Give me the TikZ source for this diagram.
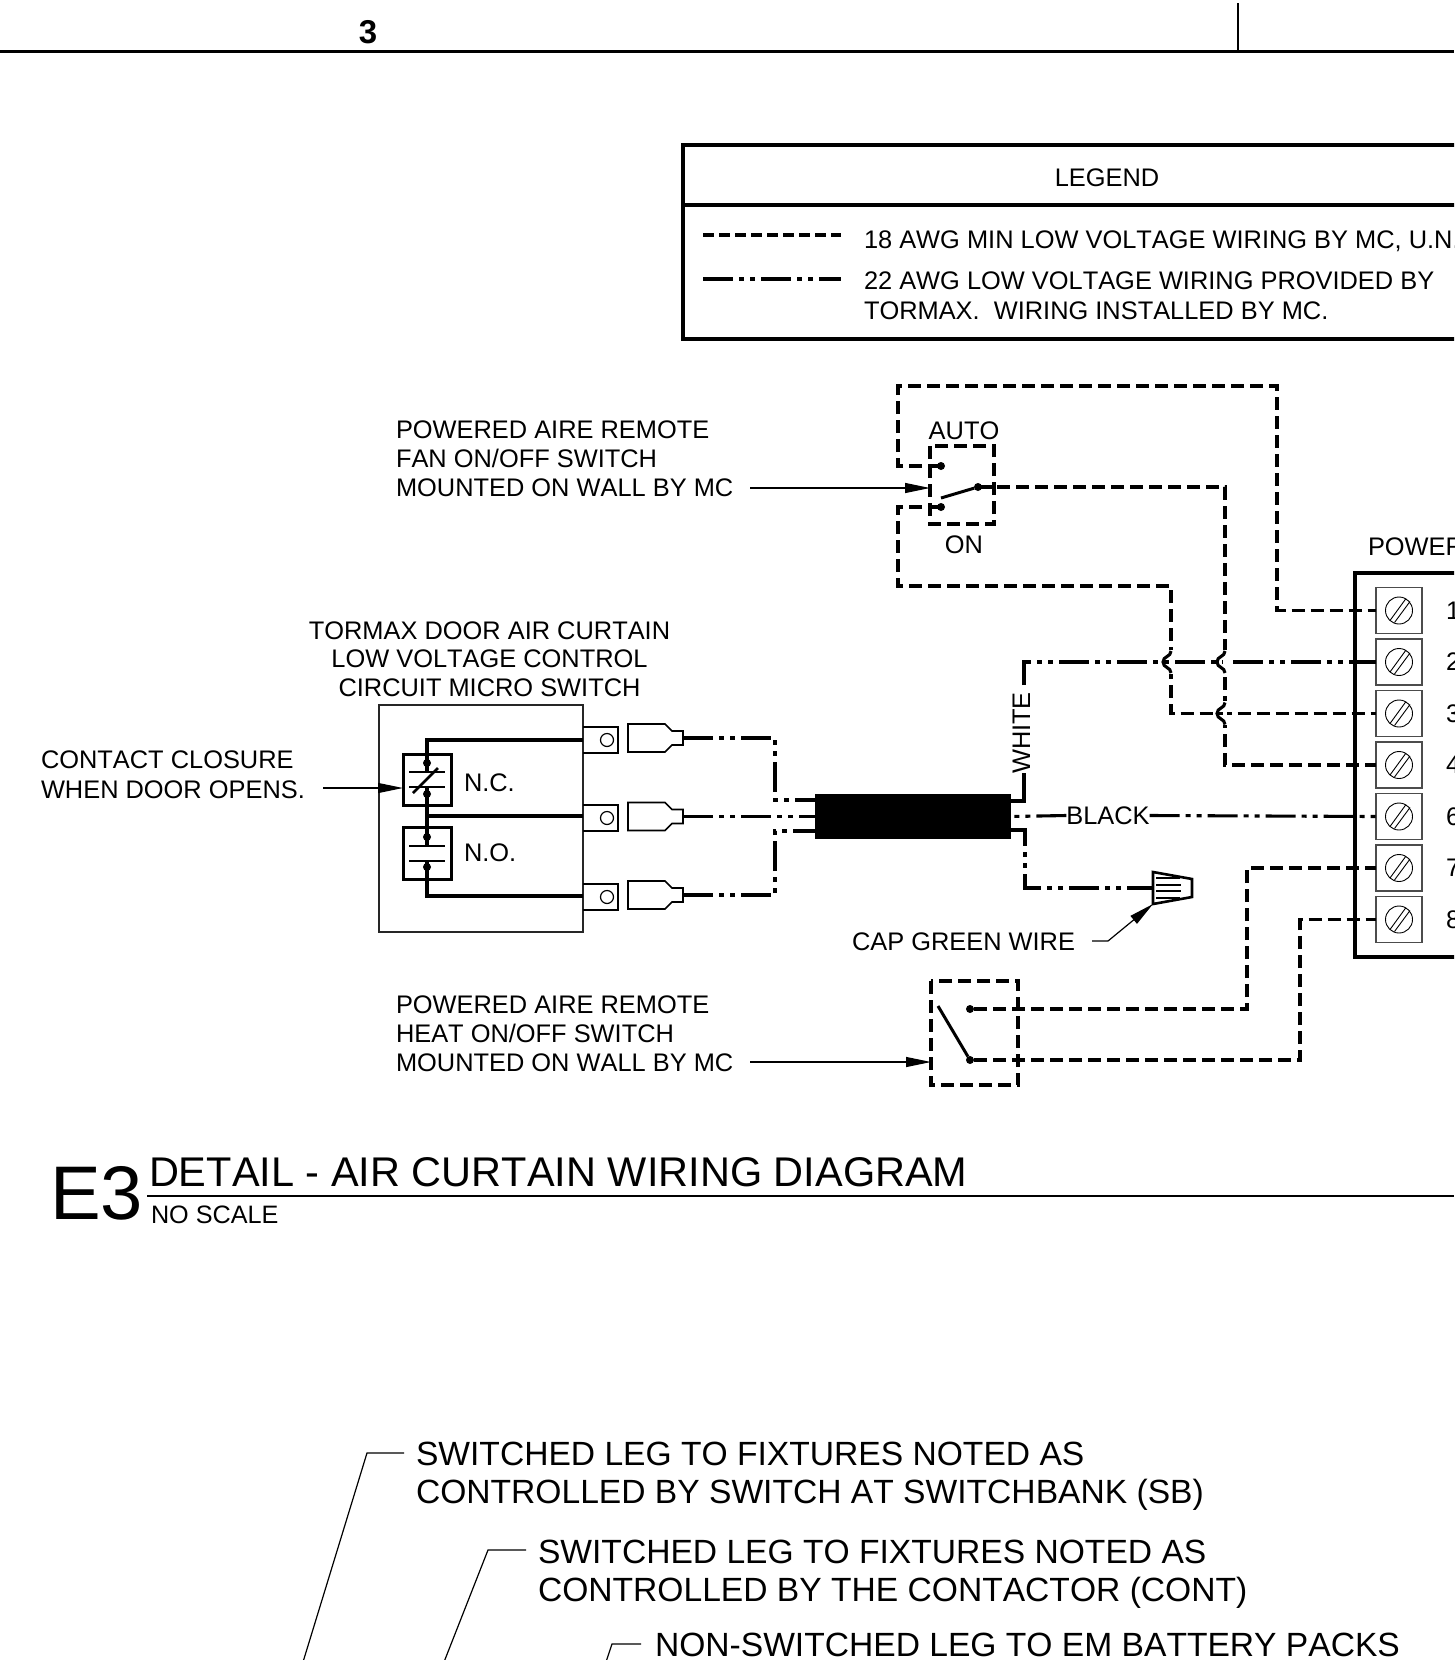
\documentclass[tikz,border=0pt]{standalone}
\usepackage{fontspec}
\setmainfont[Kerning=Off]{Liberation Sans}
\usetikzlibrary{arrows.meta,calc}
\tikzset{
 x=1pt,y=-1pt,
 txt/.style={inset,anchor=north west,align=left,font=\fontsize{25.4}{29}\selectfont},
 inset/.style={inner sep=0pt,outer sep=0pt},
 ctxt/.style={inset,anchor=north,align=center,font=\fontsize{25.4}{28.5}\selectfont},
 bigtxt/.style={inset,anchor=north west,align=left,font=\fontsize{33.6}{38}\selectfont},
 wire/.style={line width=3.1pt,line join=miter},
 dashwire/.style={wire,dash pattern=on 13pt off 6pt},
 dotwire/.style={wire,dash pattern=on 30pt off 6pt on 5pt off 6pt on 5pt off 6pt},
 leader/.style={line width=1.2pt},
 lead arrow/.style={leader,-{Triangle[length=25pt,width=10pt]}},
 frame/.style={line width=3.1pt},
 thinframe/.style={line width=1.6pt,draw=black!85},
 term/.style={draw=black!70,line width=1.6pt,minimum width=46pt,minimum height=46pt,inset},
 dotmark/.style={circle,fill=black,minimum size=8pt,inset},
 lugstyle/.style={line width=1.6pt,fill=white},
}
\newcommand{\screw}[1]{%
 \draw[line width=0.9pt] (#1) circle (13.5);
 \draw[line width=0.9pt] ($(#1)+(-9,10)$) -- ($(#1)+(7,-12)$);
 \draw[line width=0.9pt] ($(#1)+(-4.5,12)$) -- ($(#1)+(11,-9)$);
}
\newcommand{\lug}[1]{%
 \draw[lugstyle] ($(#1)+(-55,-14)$) -- ($(#1)+(-18,-14)$) -- ($(#1)+(-11,-7)$) -- ($(#1)+(0,-7)$) -- ($(#1)+(0,7)$) -- ($(#1)+(-11,7)$) -- ($(#1)+(-18,14)$) -- ($(#1)+(-55,14)$) -- cycle;
}
\newcommand{\hop}[2]{%
 \draw[wire] (#1,#2-11) .. controls (#1,#2-5) and (#1-8,#2-6) .. (#1-8,#2) .. controls (#1-8,#2+6) and (#1,#2+5) .. (#1,#2+11);
}
\begin{document}
\begin{tikzpicture}
\useasboundingbox (0,0) rectangle (1454,1660);
\clip (0,0) rectangle (1454,1660);
% title strip
\coordinate (topL) at (0,51.5); \coordinate (topR) at (1454,51.5);
\draw[frame] (topL) -- (topR);
\coordinate (tickA) at (1238,3); \coordinate (tickB) at (1238,51);
\draw[leader] (tickA) -- (tickB);
\node[inset,font=\fontsize{33}{33}\bfseries] (sheetno) at (368,32) {3};
% legend
\coordinate (legTL) at (683,145); \coordinate (legTR) at (1460,145);
\coordinate (legML) at (683,205); \coordinate (legMR) at (1460,205);
\coordinate (legBL) at (683,339); \coordinate (legBR) at (1460,339);
\draw[frame] (legTR) -- (legTL) -- (legBL) -- (legBR);
\draw[frame] (legML) -- (legMR);
\node[inset,anchor=north,font=\fontsize{25.4}{29}\selectfont] (legtitle) at (1107,168.5) {LEGEND};
\node[txt] (leg1) at (864,231) {18 AWG MIN LOW VOLTAGE WIRING BY MC, U.N.O.};
\node[txt,font=\fontsize{25.4}{30}\selectfont] (leg2) at (864,272) {22 AWG LOW VOLTAGE WIRING PROVIDED BY\\TORMAX.\ \ WIRING INSTALLED BY MC.};
\coordinate (ls1a) at (703,235); \coordinate (ls1b) at (841,235);
\coordinate (ls2a) at (703,279); \coordinate (ls2b) at (841,279);
\draw[wire,dash pattern=on 11pt off 5pt] (ls1a) -- (ls1b);
\draw[wire,dash pattern=on 30pt off 6pt on 5pt off 6pt on 5pt off 6pt] (ls2a) -- (ls2b);
% terminal block
\coordinate (blkTR) at (1460,573); \coordinate (blkTL) at (1355,573);
\coordinate (blkBL) at (1355,957); \coordinate (blkBR) at (1460,957);
\draw[frame] (blkTR) -- (blkTL) -- (blkBL) -- (blkBR);
\node[txt] (blklabel) at (1368,537.5) {POWERED AIRE};
\foreach \n/\y/\lab in {1/610.5/1,2/662/2,3/713.5/3,4/765/4,6/816.5/6,7/868/7,8/919.5/8}{
 \node[term,fill=white] (t\n) at (1399,\y) {};
 \screw{t\n.center}
 \node[inset,anchor=west,font=\fontsize{25.4}{29}\selectfont] (tn\n) at (1446,\y) {\lab};
}
% fan switch
\coordinate (fa) at (941,466); \coordinate (fo) at (941,507); \coordinate (fp) at (978,487);
\coordinate (fb1) at (930,446); \coordinate (fb2) at (994,524);
\draw[dashwire] (fb1) rectangle (fb2);
\node[dotmark] (fadot) at (fa) {};
\node[dotmark] (fodot) at (fo) {};
\node[dotmark] (fpdot) at (fp) {};
\draw[line width=3pt] (941,498) -- (fpdot);
\node[ctxt] (autolab) at (964,421.5) {AUTO};
\node[ctxt] (onlab) at (964,535.5) {ON};
\draw[wire] (fpdot) -- (994,487);
\draw[dashwire] (fp) -- (1225,487) -- (1225,765) -- (t4.west);
\draw[dashwire] (fa) -- (898,466) -- (898,386) -- (1277,386) -- (1277,610.5) -- (t1.west);
\draw[dashwire] (fo) -- (898,507) -- (898,586) -- (1171,586) -- (1171,713.5) -- (t3.west);
% cable
\node[fill=black,inset,minimum width=196pt,minimum height=45pt] (cable) at (913,816.5) {};
\draw[dotwire] (1024,685) -- (1024,662) -- (t2.west);
\draw[draw=white,line width=4pt] (1171,650) -- (1171,674);
\draw[draw=white,line width=4pt] (1225,650) -- (1225,674);
\draw[draw=white,line width=4pt] (1225,701) -- (1225,725);
\hop{1171}{662}
\hop{1225}{662}
\hop{1225}{713.5}
\draw[wire] (1024,773) -- (1024,801) -- (cable.east |- 0,801);
\node[inset,rotate=90,font=\fontsize{25.4}{29}\selectfont] (whitelab) at (1021.5,733) {WHITE};
\node[inset,font=\fontsize{25.4}{29}\selectfont] (blacklab) at (1108,815.5) {BLACK};
\draw[dotwire] (blacklab.west) -- (cable.east);
\draw[dotwire] (blacklab.east) -- (t6.west);
% wire nut
\coordinate (nutA) at (1153,872); \coordinate (nutB) at (1192,879); \coordinate (nutC) at (1192,897); \coordinate (nutD) at (1153,904);
\draw[line width=2.6pt,line join=miter] (nutA) -- (nutB) -- (nutC) -- (nutD) -- cycle;
\foreach \yy/\xx in {878/1180,885/1181,891/1181,898/1180}{\draw[line width=2.4pt] (1156,\yy) -- (\xx,\yy);}
\draw[dotwire] (cable.east |- 0,830) -- (1025,830) -- (1025,888) -- (1153,888);
\node[txt] (capgreen) at (852,932.5) {CAP GREEN WIRE};
\coordinate (capa) at (1092,941); \coordinate (capb) at (1108,941);
\draw[lead arrow] (capa) -- (capb) -- (nutD);
% heat switch
\coordinate (hb1) at (931,981); \coordinate (hb2) at (1018,1085);
\draw[dashwire] (hb1) rectangle (hb2);
\node[dotmark] (hta) at (970,1009) {};
\node[dotmark] (htb) at (970,1060) {};
\draw[line width=3pt] (938,1006) -- (htb);
\draw[dashwire] (hta) -- (1247,1009) -- (1247,868) -- (t7.west);
\draw[dashwire] (htb) -- (1300,1060) -- (1300,919.5) -- (t8.west);
% labels left
\node[txt] (fanlab) at (396,420.5) {POWERED AIRE REMOTE\\FAN ON/OFF SWITCH\\MOUNTED ON WALL BY MC};
\coordinate (fanl) at (750,488);
\draw[lead arrow] (fanl) -- (fb1 |- fanl);
\node[txt] (heatlab) at (396,995.5) {POWERED AIRE REMOTE\\HEAT ON/OFF SWITCH\\MOUNTED ON WALL BY MC};
\coordinate (heatl) at (750,1062);
\draw[lead arrow] (heatl) -- (hb1 |- heatl);
\node[ctxt] (microlab) at (489.5,621.5) {TORMAX DOOR AIR CURTAIN\\LOW VOLTAGE CONTROL\\CIRCUIT MICRO SWITCH};
\node[txt,font=\fontsize{25.4}{30.5}\selectfont] (contactlab) at (41,750.5) {CONTACT CLOSURE\\WHEN DOOR OPENS.};
% micro switch
\node[draw,thinframe,inset,anchor=north west,minimum width=204pt,minimum height=227pt] (micro) at (379,705) {};
\foreach \nm/\y in {a/740,b/818,c/897}{
 \coordinate (tab\nm) at (600,\y);
 \draw[line width=1.6pt] (583,\y-13) -- (618,\y-13) -- (618,\y+13) -- (583,\y+13);
 \draw[line width=1.2pt] (607,\y) circle (6.5);
}
\draw[wire] (583,740) -- (427,740) -- (427,896) -- (583,896);
\draw[wire] (427,816) -- (583,816);
\node[draw,line width=3pt,inset,fill=none,minimum width=48pt,minimum height=51pt] (ncbox) at (427,779.5) {};
\node[draw,line width=3pt,inset,fill=none,minimum width=48pt,minimum height=52pt] (nobox) at (427,853) {};
\foreach \p/\nm in {763/da,794/db,837/dc,867/dd}{\node[dotmark] (\nm) at (427,\p) {};}
\draw[draw=white,line width=5pt] (427,772) -- (427,787);
\draw[draw=white,line width=5pt] (427,846) -- (427,861);
\draw[line width=3.1pt] (427,755) -- (427,772) (427,787) -- (427,804) (427,828) -- (427,846) (427,861) -- (427,878);
\foreach \p in {772,787,846,861}{\draw[line width=2.8pt] (409,\p) -- (445,\p);}
\draw[line width=2.8pt] (413,793) -- (438,768);
\node[txt] (nclab) at (464,774) {N.C.};
\node[txt] (nolab) at (464,844) {N.O.};
\coordinate (contl) at (323,788);
\draw[lead arrow] (contl) -- (ncbox.west |- contl);
% lugs
\coordinate (luga) at (683,738); \coordinate (lugb) at (683,816.5); \coordinate (lugc) at (683,895);
\lug{luga} \lug{lugb} \lug{lugc}
\draw[dotwire] (luga) -- (775,738) -- (775,800) -- (cable.west |- 0,800);
\draw[dotwire] (lugb) -- (cable.west);
\draw[dotwire] (lugc) -- (775,895) -- (775,831) -- (cable.west |- 0,831);
% title
\node[inset,anchor=north west,font=\fontsize{76}{76}\selectfont] (e3) at (50,1166.5) {E3};
\node[inset,anchor=north west,font=\fontsize{41.5}{42}\selectfont] (dtitle) at (149,1158) {DETAIL - AIR CURTAIN WIRING DIAGRAM};
\coordinate (ulA) at (147,1196); \coordinate (ulB) at (1454,1196);
\draw[line width=1.8pt] (ulA) -- (ulB);
\node[inset,anchor=north west,font=\fontsize{25.2}{25}\selectfont] (noscale) at (151,1206) {NO SCALE};
% lower notes
\node[bigtxt] (n1) at (416,1442) {SWITCHED LEG TO FIXTURES NOTED AS\\CONTROLLED BY SWITCH AT SWITCHBANK (SB)};
\node[bigtxt] (n2) at (538,1540) {SWITCHED LEG TO FIXTURES NOTED AS\\CONTROLLED BY THE CONTACTOR (CONT)};
\node[bigtxt] (n3) at (655,1633) {NON-SWITCHED LEG TO EM BATTERY PACKS};
\coordinate (l1a) at (404,1453); \coordinate (l1b) at (367,1453); \coordinate (l1c) at (303,1662);
\coordinate (l2a) at (526,1550); \coordinate (l2b) at (488,1550); \coordinate (l2c) at (444,1662);
\coordinate (l3a) at (641,1644); \coordinate (l3b) at (612,1644); \coordinate (l3c) at (606,1662);
\draw[leader] (l1a) -- (l1b) -- (l1c);
\draw[leader] (l2a) -- (l2b) -- (l2c);
\draw[leader] (l3a) -- (l3b) -- (l3c);
\end{tikzpicture}
\end{document}
